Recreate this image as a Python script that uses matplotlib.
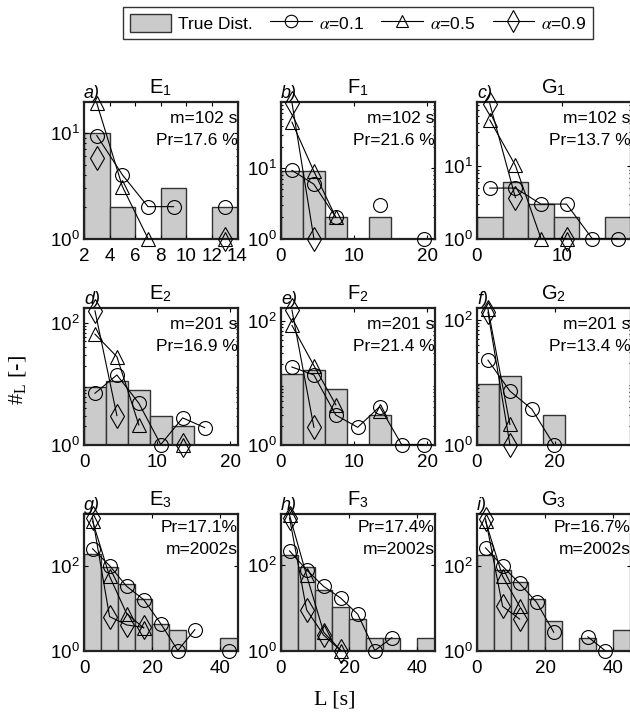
import numpy as np
import matplotlib
matplotlib.use("Agg")
import matplotlib.pyplot as plt
from matplotlib.patches import Patch
from matplotlib.lines import Line2D

nan = np.nan

# histogram of the true distribution and estimates for alpha = 0.1 / 0.5 / 0.9
e1_true = [10, 2, 0, 3, 0, 2]
e1_a01 = [9.4, 4, 2, 2, nan, 2]
e1_a05 = [19, 3.1, 1, nan, nan, 1]
e1_a09 = [5.8, nan, nan, nan, nan, 1]

f1_true = [9, 9, 2, 0, 2, 0, 0]
f1_a01 = [9.3, 5.9, 2, nan, 3, nan, 1]
f1_a05 = [45, 9, 2, nan, nan, nan, nan]
f1_a09 = [85, 1, nan, nan, nan, nan, nan]

g1_true = [2, 6, 3, 2, 0, 2]
g1_a01 = [5, 5, 3, 3, 1, 1]
g1_a05 = [44, 10.3, 1, 1, nan, nan]
g1_a09 = [74, 3.7, nan, 1, nan, nan]

e2_true = [9, 11, 8, 3, 2, 0, 0]
e2_a01 = [7, 14, 4.8, 1, 2.75, 1.9, nan]
e2_a05 = [66, 28, 2.1, nan, 1, nan, nan]
e2_a09 = [160, 3, nan, nan, 1, nan, nan]

f2_true = [14, 16, 8, 0, 3, 0, 0]
f2_a01 = [18, 13.4, 3, 1.9, 4.1, 1, 1]
f2_a05 = [85, 19, 4.4, nan, 3.5, nan, nan]
f2_a09 = [150, 1.9, nan, nan, nan, nan, nan]

g2_true = [9.3, 12.4, 0, 3, 0, 0, 0]
g2_a01 = [22.6, 7.2, 3.7, 1, nan, nan, nan]
g2_a05 = [150, 2.1, nan, nan, nan, nan, nan]
g2_a09 = [133, 1, nan, nan, nan, nan, nan]

e3_true = [190, 93, 37, 16.4, 4.3, 3, 0, 0, 2]
e3_a01 = [250, 100, 32.6, 15.8, 4.3, 1, 3.1, nan, 1]
e3_a05 = [1120, 56, 7.4, 3.4, nan, nan, nan, nan, nan]
e3_a09 = [1350, 6.3, 4, 3.5, nan, nan, nan, nan, nan]

f3_true = [178, 93, 27, 10.5, 5.6, 2, 2, 0, 2]
f3_a01 = [218, 78, 32, 17, 7.1, 1, 2, nan, nan]
f3_a05 = [1500, 58, 2.7, 1, nan, nan, nan, nan, nan]
f3_a09 = [1300, 9, 2.3, 1, nan, nan, nan, nan, nan]

g3_true = [182, 81, 41, 16.4, 5, 0, 2, 0, 3]
g3_a01 = [263, 97, 38, 13.6, 2.7, nan, 2.1, 1, nan]
g3_a05 = [1120, 56, 11, nan, nan, nan, nan, nan, nan]
g3_a09 = [1270, 11, 5.5, nan, nan, nan, nan, nan, nan]

titles = ["E", "F", "G"]
letters = ["a)", "b)", "c)", "d)", "e)", "f)", "g)", "h)", "i)"]
m_text = ["m=102 s", "m=201 s", "m=2002s"]
pr_text = ["Pr=17.6 %", "Pr=21.6 %", "Pr=13.7 %",
           "Pr=16.9 %", "Pr=21.4 %", "Pr=13.4 %",
           "Pr=17.1%", "Pr=17.4%", "Pr=16.7%"]

# (true, a01, a05, a09, xlim, ymax, xticks)
panels = [
    (e1_true, e1_a01, e1_a05, e1_a09, (2, 14), 19.5, [2, 4, 6, 8, 10, 12, 14]),
    (f1_true, f1_a01, f1_a05, f1_a09, (0, 21), 87, [0, 10, 20]),
    (g1_true, g1_a01, g1_a05, g1_a09, (0, 18), 78, [0, 10]),
    (e2_true, e2_a01, e2_a05, e2_a09, (0, 21), 178, [0, 10, 20]),
    (f2_true, f2_a01, f2_a05, f2_a09, (0, 21), 163, [0, 10, 20]),
    (g2_true, g2_a01, g2_a05, g2_a09, (0, 39.6), 155, [0, 20]),
    (e3_true, e3_a01, e3_a05, e3_a09, (0, 45), 1650, [0, 20, 40]),
    (f3_true, f3_a01, f3_a05, f3_a09, (0, 45), 1600, [0, 20, 40]),
    (g3_true, g3_a01, g3_a05, g3_a09, (0, 45), 1650, [0, 20, 40]),
]

plt.rcParams["font.family"] = ["Liberation Sans", "DejaVu Sans"]
plt.rcParams["mathtext.fontset"] = "stix"

W, H = 630, 718
fig = plt.figure(figsize=(W / 100, H / 100), dpi=100)

col_left = [84, 281, 477]
row_top = [102, 308, 514]
aw, ah = 153.5, 136.5

bar_fc = "#cbcbcb"
bar_ec = "#333333"
mk = dict(color="k", lw=0.8, mfc="none", mec="k", mew=0.8, clip_on=False)

for i, (true, a01, a05, a09, xl, ymax, xt) in enumerate(panels):
    r, c = divmod(i, 3)
    ax = fig.add_axes([col_left[c] / W, 1 - (row_top[r] + ah) / H, aw / W, ah / H])
    n = len(true)
    bw = (xl[1] - xl[0]) / n
    edges = xl[0] + bw * np.arange(n)
    centers = edges + bw / 2
    ax.set_yscale("log", nonpositive="clip")
    ax.bar(edges, true, width=bw, align="edge", color=bar_fc, edgecolor=bar_ec,
           linewidth=1.0, zorder=1)
    ax.plot(centers, a01, marker="o", ms=10, zorder=3, **mk)
    ax.plot(centers, a05, marker="^", ms=10, zorder=3, **mk)
    ax.plot(centers, a09, marker="d", ms=12, zorder=3, **mk)
    ax.set_xlim(*xl)
    ax.set_ylim(1, ymax)
    ax.set_xticks(xt)
    if r == 0:
        ax.set_yticks([1, 10])
    else:
        ax.set_yticks([1, 100])
    ax.tick_params(which="both", direction="in", top=True, right=True,
                   labelsize=13.5, length=3, width=0.8)
    ax.tick_params(axis="x", pad=7)
    ax.tick_params(axis="y", pad=3)
    ax.tick_params(which="minor", length=1.5)
    for s in ax.spines.values():
        s.set_linewidth(1.6)
        s.set_color("#222222")
    ax.set_title(titles[c] + r"$_{\mathdefault{%d}}$" % (r + 1), fontsize=14.5, pad=6)
    ax.text(0.0, 1.0, letters[i], transform=ax.transAxes, ha="left", va="bottom",
            style="italic", fontsize=13)
    if r < 2:
        ax.text(1.0, 0.88, m_text[r], transform=ax.transAxes, ha="right", va="center", fontsize=12.5)
        ax.text(1.0, 0.72, pr_text[i], transform=ax.transAxes, ha="right", va="center", fontsize=12.5)
    else:
        ax.text(1.0, 0.90, pr_text[i], transform=ax.transAxes, ha="right", va="center", fontsize=12.5)
        ax.text(1.0, 0.74, m_text[r], transform=ax.transAxes, ha="right", va="center", fontsize=12.5)

handles = [
    Patch(facecolor=bar_fc, edgecolor=bar_ec, linewidth=1.0),
    Line2D([], [], marker="o", ms=9, color="k", lw=0.8, mfc="none", mec="k", mew=0.8),
    Line2D([], [], marker="^", ms=9, color="k", lw=0.8, mfc="none", mec="k", mew=0.8),
    Line2D([], [], marker="d", ms=11, color="k", lw=0.8, mfc="none", mec="k", mew=0.8),
]
labels = ["True Dist.", r"$\alpha$=0.1", r"$\alpha$=0.5", r"$\alpha$=0.9"]
leg = fig.legend(handles, labels, loc="center", bbox_to_anchor=(358 / W, 1 - 23 / H),
                 ncol=4, fontsize=12.5, frameon=True, fancybox=False, edgecolor="k",
                 handlelength=2.4, handleheight=1.3, columnspacing=1.0, handletextpad=0.4,
                 borderpad=0.4, borderaxespad=0)
leg.get_frame().set_linewidth(1.0)

fig.text(18 / W, 1 - 380 / H, r"#$_{\mathdefault{L}}$ [-]", rotation=90, ha="center", va="center",
         family="Liberation Serif", fontsize=16)
fig.text(335 / W, 1 - 700 / H, "L [s]", ha="center", va="center",
         family="Liberation Serif", fontsize=16)

fig.savefig("out.png", dpi=100)
